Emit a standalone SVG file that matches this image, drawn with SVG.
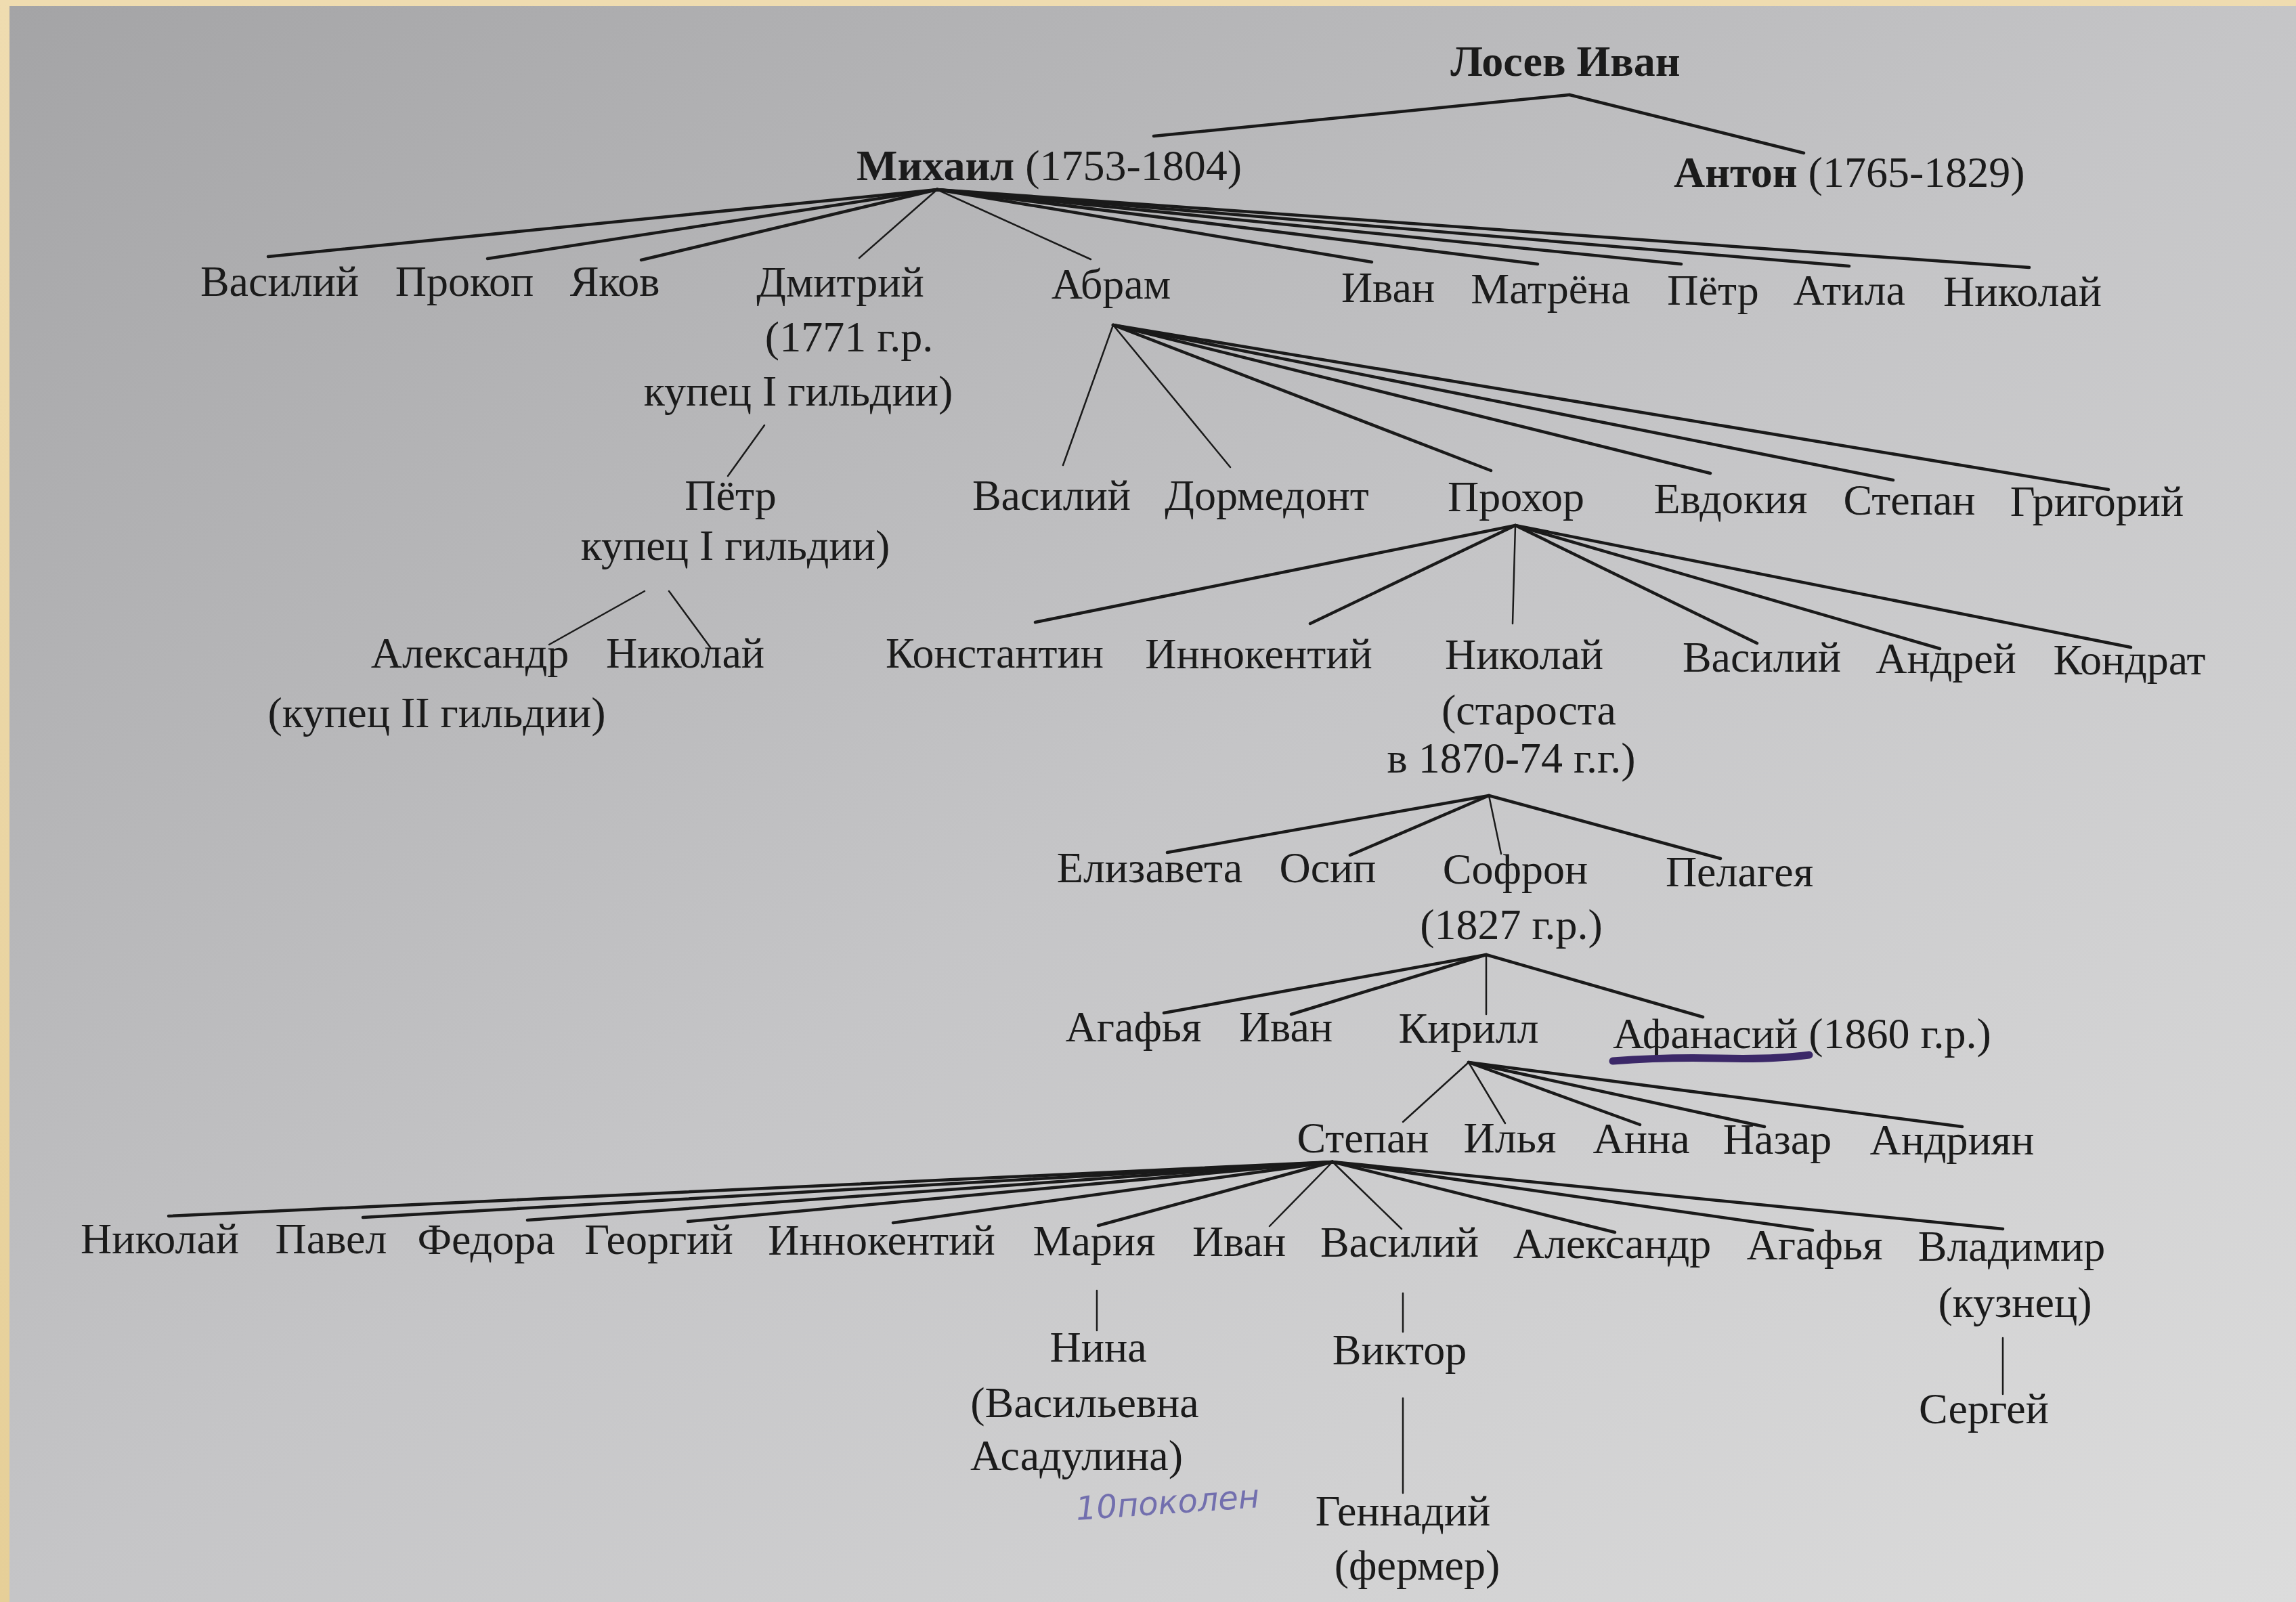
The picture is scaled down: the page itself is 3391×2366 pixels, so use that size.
<svg xmlns="http://www.w3.org/2000/svg" width="3391" height="2366" viewBox="0 0 3391 2366">
<defs>
<linearGradient id="paper" x1="0" y1="0" x2="1" y2="1">
<stop offset="0" stop-color="#a4a4a6"/>
<stop offset="0.5" stop-color="#c5c5c7"/>
<stop offset="1" stop-color="#dcdcdc"/>
</linearGradient>
<linearGradient id="parch" x1="0" y1="0" x2="0" y2="1">
<stop offset="0" stop-color="#efdcb0"/>
<stop offset="1" stop-color="#e6cf98"/>
</linearGradient>
<style>
.t{font-family:"Liberation Serif","Times New Roman",serif;font-size:64px;fill:#1b1b1b;text-anchor:middle}
.s{text-anchor:start}
.b{font-weight:bold}
.c line{stroke:#1a1a1a;stroke-width:4.5;stroke-linecap:round}
.c line.th{stroke-width:2.5}
.hw{font-family:"DejaVu Sans",sans-serif;font-style:italic;font-size:48px;fill:#726fae}
</style>
</defs>
<rect x="0" y="0" width="3391" height="2366" fill="url(#parch)"/>
<rect x="14" y="9" width="3377" height="2357" fill="url(#paper)"/>

<g id="connectors" class="c">
<line x1="2318" y1="140" x2="1704" y2="201"/>
<line x1="2318" y1="140" x2="2664" y2="226"/>
<line x1="1384" y1="280" x2="396" y2="379"/>
<line x1="1384" y1="280" x2="720" y2="382"/>
<line x1="1384" y1="280" x2="947" y2="384"/>
<line class="th" x1="1384" y1="280" x2="1269" y2="381"/>
<line class="th" x1="1384" y1="280" x2="1611" y2="383"/>
<line x1="1384" y1="280" x2="2026" y2="387"/>
<line x1="1384" y1="280" x2="2271" y2="390"/>
<line x1="1384" y1="280" x2="2483" y2="390"/>
<line x1="1384" y1="280" x2="2731" y2="393"/>
<line x1="1384" y1="280" x2="2997" y2="395"/>
<line class="th" x1="1129" y1="628" x2="1075" y2="703"/>
<line class="th" x1="952" y1="873" x2="811" y2="952"/>
<line class="th" x1="988" y1="873" x2="1049" y2="956"/>
<line class="th" x1="1644" y1="480" x2="1570" y2="687"/>
<line class="th" x1="1644" y1="480" x2="1817" y2="690"/>
<line x1="1644" y1="480" x2="2202" y2="695"/>
<line x1="1644" y1="480" x2="2526" y2="699"/>
<line x1="1644" y1="480" x2="2796" y2="709"/>
<line x1="1644" y1="480" x2="3114" y2="723"/>
<line x1="2238" y1="776" x2="1529" y2="919"/>
<line x1="2238" y1="776" x2="1935" y2="921"/>
<line class="th" x1="2238" y1="776" x2="2234" y2="921"/>
<line x1="2238" y1="776" x2="2595" y2="950"/>
<line x1="2238" y1="776" x2="2865" y2="958"/>
<line x1="2238" y1="776" x2="3147" y2="956"/>
<line x1="2199" y1="1175" x2="1724" y2="1259"/>
<line x1="2199" y1="1175" x2="1994" y2="1263"/>
<line class="th" x1="2199" y1="1175" x2="2217" y2="1261"/>
<line x1="2199" y1="1175" x2="2541" y2="1268"/>
<line x1="2195" y1="1410" x2="1719" y2="1496"/>
<line x1="2195" y1="1410" x2="1907" y2="1498"/>
<line class="th" x1="2195" y1="1410" x2="2195" y2="1498"/>
<line x1="2195" y1="1410" x2="2515" y2="1502"/>
<line class="th" x1="2169" y1="1569" x2="2072" y2="1657"/>
<line class="th" x1="2169" y1="1569" x2="2223" y2="1659"/>
<line x1="2169" y1="1569" x2="2422" y2="1661"/>
<line x1="2169" y1="1569" x2="2606" y2="1664"/>
<line x1="2169" y1="1569" x2="2898" y2="1664"/>
<line x1="1968" y1="1716" x2="249" y2="1796"/>
<line x1="1968" y1="1716" x2="536" y2="1798"/>
<line x1="1968" y1="1716" x2="779" y2="1802"/>
<line x1="1968" y1="1716" x2="1016" y2="1804"/>
<line x1="1968" y1="1716" x2="1319" y2="1806"/>
<line x1="1968" y1="1716" x2="1622" y2="1810"/>
<line class="th" x1="1968" y1="1716" x2="1875" y2="1811"/>
<line class="th" x1="1968" y1="1716" x2="2070" y2="1815"/>
<line x1="1968" y1="1716" x2="2385" y2="1820"/>
<line x1="1968" y1="1716" x2="2677" y2="1817"/>
<line x1="1968" y1="1716" x2="2958" y2="1815"/>
<line class="th" x1="1620" y1="1906" x2="1620" y2="1965"/>
<line class="th" x1="2072" y1="1910" x2="2072" y2="1967"/>
<line class="th" x1="2072" y1="2065" x2="2072" y2="2205"/>
<line class="th" x1="2958" y1="1976" x2="2958" y2="2059"/>
</g>

<g id="n-losev-ivan"><text class="t b" x="2312" y="112">Лосев Иван</text></g>
<g id="n-mikhail"><text class="t s" x="1265" y="266"><tspan class="b">Михаил</tspan> (1753-1804)</text></g>
<g id="n-anton"><text class="t s" x="2472" y="276"><tspan class="b">Антон</tspan> (1765-1829)</text></g>

<g id="n-vasiliy1"><text class="t" x="413" y="437">Василий</text></g>
<g id="n-prokop"><text class="t" x="686" y="437">Прокоп</text></g>
<g id="n-yakov"><text class="t" x="908" y="437">Яков</text></g>
<g id="n-dmitriy"><text class="t" x="1241" y="438">Дмитрий</text><text class="t" x="1254" y="519">(1771 г.р.</text><text class="t" x="1179" y="599">купец  I гильдии)</text></g>
<g id="n-abram"><text class="t" x="1641" y="441">Абрам</text></g>
<g id="n-ivan1"><text class="t" x="2050" y="446">Иван</text></g>
<g id="n-matryona"><text class="t" x="2290" y="448">Матрёна</text></g>
<g id="n-petr1"><text class="t" x="2530" y="450">Пётр</text></g>
<g id="n-atila"><text class="t" x="2731" y="450">Атила</text></g>
<g id="n-nikolay1"><text class="t" x="2987" y="452">Николай</text></g>

<g id="n-petr2"><text class="t" x="1079" y="753">Пётр</text><text class="t" x="1086" y="827">купец I  гильдии)</text></g>
<g id="n-aleksandr1"><text class="t" x="694" y="986">Александр</text><text class="t" x="645" y="1074">(купец II  гильдии)</text></g>
<g id="n-nikolay2"><text class="t" x="1012" y="986">Николай</text></g>

<g id="n-vasiliy2"><text class="t" x="1553" y="753">Василий</text></g>
<g id="n-dormedont"><text class="t" x="1871" y="753">Дормедонт</text></g>
<g id="n-prokhor"><text class="t" x="2239" y="755">Прохор</text></g>
<g id="n-evdokiya"><text class="t" x="2556" y="758">Евдокия</text></g>
<g id="n-stepan1"><text class="t" x="2820" y="760">Степан</text></g>
<g id="n-grigoriy"><text class="t" x="3097" y="762">Григорий</text></g>

<g id="n-konstantin"><text class="t" x="1469" y="986">Константин</text></g>
<g id="n-innokentiy1"><text class="t" x="1859" y="987">Иннокентий</text></g>
<g id="n-nikolay3"><text class="t" x="2251" y="988">Николай</text><text class="t" x="2258" y="1070">(староста</text><text class="t" x="2232" y="1141">в 1870-74 г.г.)</text></g>
<g id="n-vasiliy3"><text class="t" x="2602" y="992">Василий</text></g>
<g id="n-andrey"><text class="t" x="2874" y="994">Андрей</text></g>
<g id="n-kondrat"><text class="t" x="3145" y="996">Кондрат</text></g>

<g id="n-elizaveta"><text class="t" x="1698" y="1303">Елизавета</text></g>
<g id="n-osip"><text class="t" x="1961" y="1303">Осип</text></g>
<g id="n-sofron"><text class="t" x="2238" y="1305">Софрон</text><text class="t" x="2232" y="1387">(1827 г.р.)</text></g>
<g id="n-pelageya"><text class="t" x="2569" y="1309">Пелагея</text></g>

<g id="n-agafya1"><text class="t" x="1674" y="1538">Агафья</text></g>
<g id="n-ivan2"><text class="t" x="1899" y="1538">Иван</text></g>
<g id="n-kirill"><text class="t" x="2169" y="1540">Кирилл</text></g>
<g id="n-afanasiy"><text class="t s" x="2382" y="1548">Афанасий (1860 г.р.)</text>
<path d="M2382 1567 Q2460 1561 2540 1563 T2672 1558" fill="none" stroke="#3b2868" stroke-width="11" stroke-linecap="round"/></g>

<g id="n-stepan2"><text class="t" x="2013" y="1702">Степан</text></g>
<g id="n-ilya"><text class="t" x="2230" y="1702">Илья</text></g>
<g id="n-anna"><text class="t" x="2424" y="1703">Анна</text></g>
<g id="n-nazar"><text class="t" x="2625" y="1704">Назар</text></g>
<g id="n-andriyan"><text class="t" x="2883" y="1705">Андриян</text></g>

<g id="n-nikolay4"><text class="t" x="236" y="1851">Николай</text></g>
<g id="n-pavel"><text class="t" x="489" y="1851">Павел</text></g>
<g id="n-fedora"><text class="t" x="718" y="1852">Федора</text></g>
<g id="n-georgiy"><text class="t" x="973" y="1852">Георгий</text></g>
<g id="n-innokentiy2"><text class="t" x="1302" y="1853">Иннокентий</text></g>
<g id="n-mariya"><text class="t" x="1616" y="1854">Мария</text></g>
<g id="n-ivan3"><text class="t" x="1830" y="1855">Иван</text></g>
<g id="n-vasiliy4"><text class="t" x="2067" y="1856">Василий</text></g>
<g id="n-aleksandr2"><text class="t" x="2381" y="1858">Александр</text></g>
<g id="n-agafya2"><text class="t" x="2680" y="1860">Агафья</text></g>
<g id="n-vladimir"><text class="t" x="2971" y="1862">Владимир</text><text class="t" x="2976" y="1945">(кузнец)</text></g>

<g id="n-nina"><text class="t" x="1622" y="2011">Нина</text><text class="t" x="1602" y="2093">(Васильевна</text><text class="t" x="1590" y="2171">Асадулина)</text></g>
<g id="n-viktor"><text class="t" x="2067" y="2015">Виктор</text></g>
<g id="n-gennadiy"><text class="t" x="2072" y="2253">Геннадий</text><text class="t" x="2093" y="2333">(фермер)</text></g>
<g id="n-sergey"><text class="t" x="2930" y="2102">Сергей</text></g>

<text class="hw" x="1590" y="2245" transform="rotate(-4 1590 2245)">10поколен</text>
</svg>
